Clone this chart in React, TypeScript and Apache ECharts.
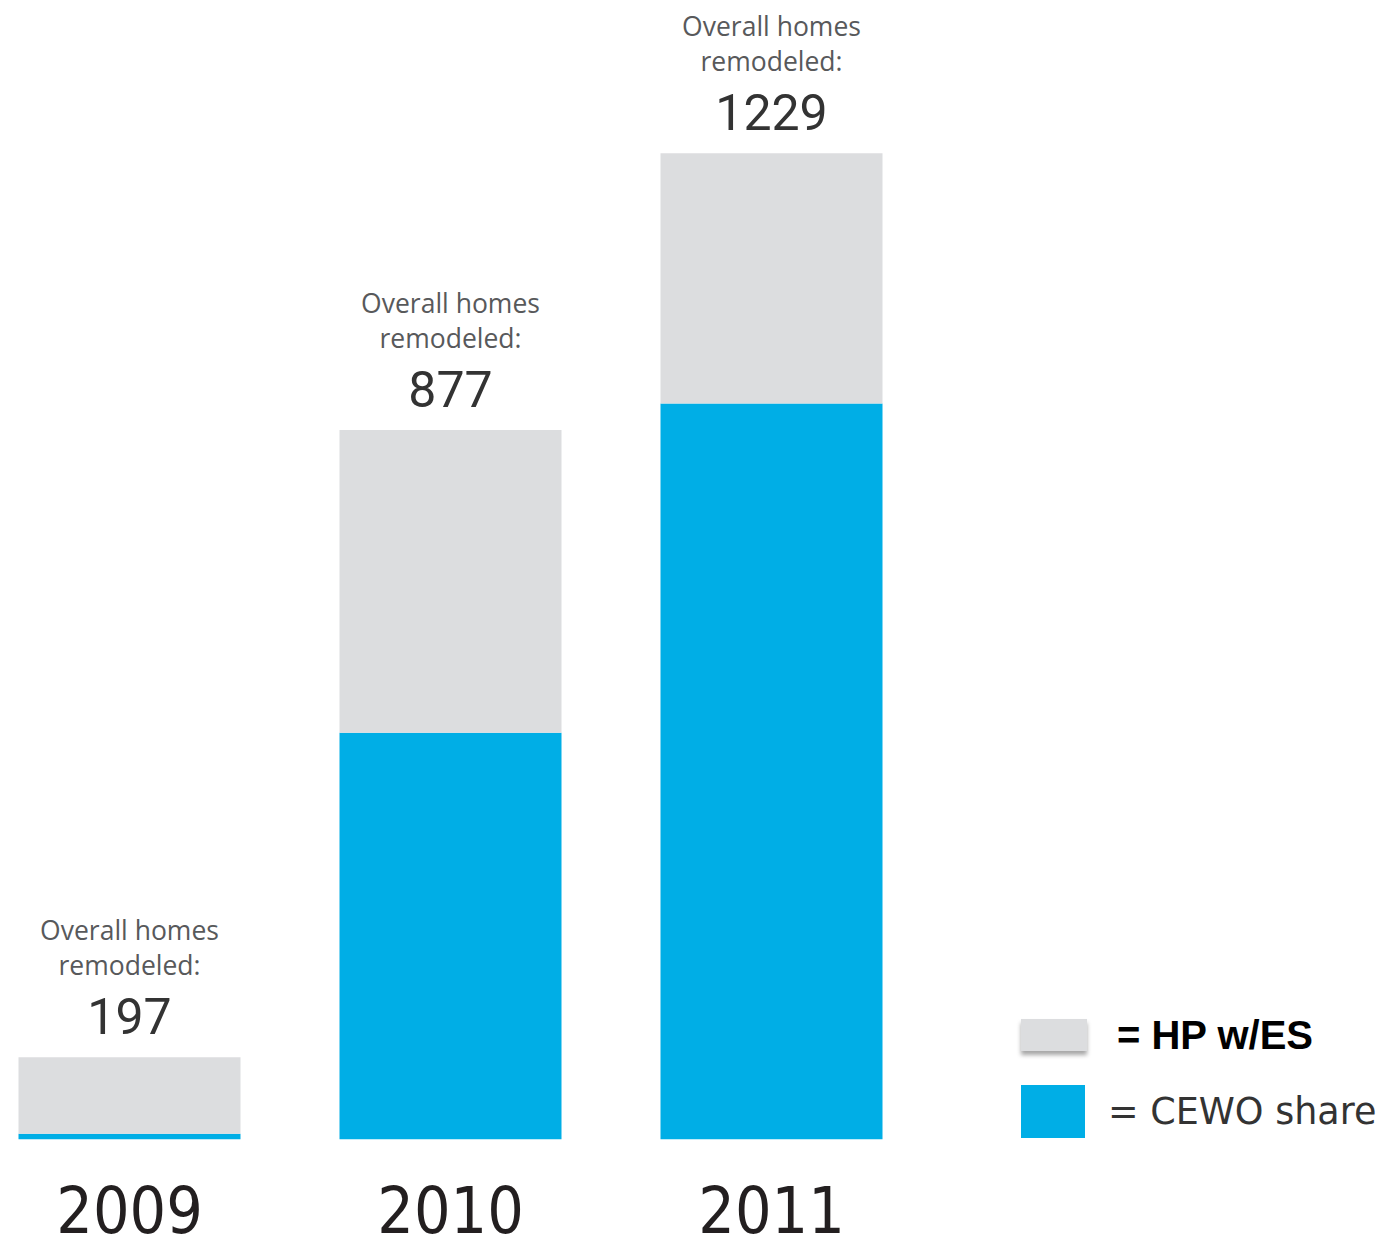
import React, { useEffect, useRef } from "react";
import * as echarts from "echarts";

const years = ["2009", "2010", "2011"];
const totalLabels = [197, 877, 1229];
const cewoShare = [7, 505, 914];
const hpRemainder = [95, 376, 311];
const seriesNames = ["HP w/ES", "CEWO share"];

const SHIFT = 31;

export default function App() {
  const ref = useRef<HTMLDivElement>(null);
  useEffect(() => {
    if (!ref.current) return;
    const chart = echarts.init(ref.current, null, { renderer: "svg" });
    chart.setOption({
      animation: false,
      backgroundColor: "#ffffff",
      grid: { left: 0, width: 963, top: 12.3, bottom: 110.7 },
      xAxis: {
        type: "category",
        data: years,
        axisLine: { show: false },
        axisTick: { show: false },
        axisLabel: {
          margin: 40,
          fontSize: 64,
          lineHeight: 64,
          color: "#231f20",
          fontFamily: '"DejaVu Sans Condensed", "DejaVu Sans", sans-serif',
        },
      },
      yAxis: { type: "value", min: 0, max: 1400, show: false, splitLine: { show: false } },
      legend: [
        {
          data: [seriesNames[0]],
          left: 1021 + SHIFT,
          top: 1015,
          padding: 0,
          orient: "vertical",
          icon: "rect",
          itemWidth: 66,
          itemHeight: 32,
          formatter: "= {name}",
          itemStyle: { shadowColor: "rgba(0,0,0,0.35)", shadowBlur: 4, shadowOffsetY: 4 },
          textStyle: {
            fontFamily: '"Liberation Sans", Arial, sans-serif',
            fontWeight: "bold",
            fontSize: 40,
            color: "#000000",
            padding: [26, 0, 0, 25],
          },
          selectedMode: false,
        },
        {
          data: [seriesNames[1]],
          left: 1021 + SHIFT,
          top: 1085,
          padding: 0,
          orient: "vertical",
          icon: "rect",
          itemWidth: 64,
          itemHeight: 53,
          formatter: "= {name}",
          textStyle: {
            fontFamily: '"DejaVu Sans", sans-serif',
            fontSize: 36.5,
            color: "#333333",
            padding: [0, 0, 0, 18],
          },
          selectedMode: false,
        },
      ],
      series: [
        {
          name: seriesNames[1],
          type: "bar",
          stack: "total",
          barWidth: 222,
          data: cewoShare,
          itemStyle: { color: "#00aee6" },
        },
        {
          name: seriesNames[0],
          type: "bar",
          stack: "total",
          barWidth: 222,
          data: hpRemainder,
          itemStyle: { color: "#dcdddf" },
          label: {
            show: true,
            position: "top",
            distance: 5,
            formatter: (p: any) =>
              "{a|Overall homes}\n{a|remodeled:}\n{b|" + totalLabels[p.dataIndex] + "}",
            rich: {
              a: {
                fontFamily: '"Open Sans", sans-serif',
                fontSize: 26.5,
                lineHeight: 35,
                color: "#58595b",
                align: "center",
              },
              b: {
                fontFamily: "Roboto, sans-serif",
                fontSize: 50,
                lineHeight: 70,
                color: "#333333",
                align: "center",
              },
            },
          },
        },
      ],
    });
    return () => chart.dispose();
  }, []);
  return (
    <div
      ref={ref}
      style={{ position: "absolute", left: -SHIFT, top: 0, width: 1395 + SHIFT, height: 1250 }}
    />
  );
}
